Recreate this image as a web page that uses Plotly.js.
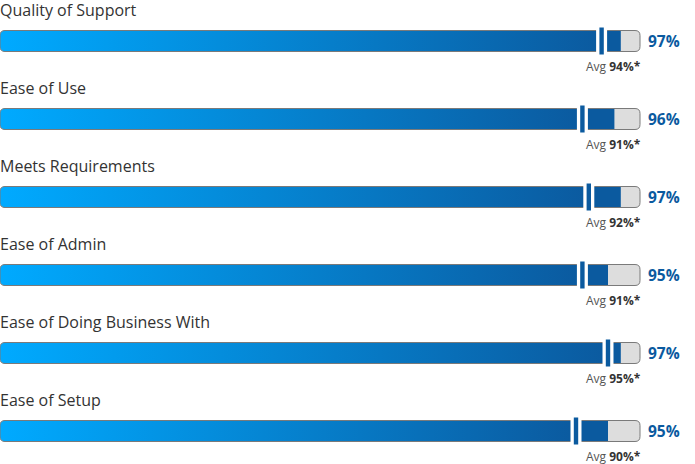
<!DOCTYPE html>
<html>
<head>
<meta charset="utf-8">
<script src="https://cdn.plot.ly/plotly-3.0.1.min.js"></script>
<style>html,body{margin:0;padding:0;background:#fff;}#chart{width:695px;height:464px;}</style>
</head>
<body>
<div id="chart"></div>
<script>
const categories = ["Quality of Support","Ease of Use","Meets Requirements","Ease of Admin","Ease of Doing Business With","Ease of Setup"];
const scores = [97, 96, 97, 95, 97, 95];
const averages = [94, 91, 92, 91, 95, 90];

const W = 695, H = 464;
const pxPerPct = 6.4;          // 100% spans 640px
const rowPitch = 78;
const barTop = 30.5, barBot = 51.5;
const radius = 5;              // corner radius in px
const rx = radius / pxPerPct;  // corner radius in x units
const full = 100;

const traces = [];
const shapes = [];
const annotations = [];

function roundedPath(x0, x1, y0, y1) {
  return `M ${x0 + rx} ${y0} L ${x1 - rx} ${y0} Q ${x1} ${y0} ${x1} ${y0 + radius} L ${x1} ${y1 - radius} Q ${x1} ${y1} ${x1 - rx} ${y1} L ${x0 + rx} ${y1} Q ${x0} ${y1} ${x0} ${y1 - radius} L ${x0} ${y0 + radius} Q ${x0} ${y0} ${x0 + rx} ${y0} Z`;
}

categories.forEach((cat, i) => {
  const off = rowPitch * i;
  const t = barTop + off, b = barBot + off;
  const v = scores[i], a = averages[i];

  shapes.push({type: 'path', xref: 'x', yref: 'y', layer: 'below',
    path: roundedPath(0, full, t, b), fillcolor: '#dddddd', line: {width: 0}});

  const xs = [], ys = [];
  xs.push(rx, v, v, rx); ys.push(t, t, b, b);
  const n = 8;
  for (let k = 0; k <= n; k++) {
    const ang = Math.PI / 2 + (Math.PI / 2) * k / n;
    xs.push(rx + rx * Math.cos(ang)); ys.push(b - radius + radius * Math.sin(ang));
  }
  for (let k = 0; k <= n; k++) {
    const ang = Math.PI + (Math.PI / 2) * k / n;
    xs.push(rx + rx * Math.cos(ang)); ys.push(t + radius + radius * Math.sin(ang));
  }
  traces.push({type: 'scatter', mode: 'none', x: xs, y: ys, fill: 'toself',
    fillgradient: {type: 'horizontal', start: 0, stop: a,
      colorscale: [[0, '#00aaff'], [1, '#0b5a9f']]},
    hoverinfo: 'skip', showlegend: false});

  shapes.push({type: 'path', xref: 'x', yref: 'y', layer: 'above',
    path: roundedPath(0, full, t, b), fillcolor: 'rgba(0,0,0,0)', line: {color: '#7a7a7a', width: 1}});

  shapes.push({type: 'rect', xref: 'x', yref: 'y', layer: 'above',
    x0: a - 5.5 / pxPerPct, x1: a + 5.5 / pxPerPct, y0: t - 0.5, y1: b + 0.5,
    fillcolor: '#ffffff', line: {width: 0}});
  shapes.push({type: 'rect', xref: 'x', yref: 'y', layer: 'above',
    x0: a - 2.2 / pxPerPct, x1: a + 2.2 / pxPerPct, y0: t - 3, y1: b + 3,
    fillcolor: '#0b5a9f', line: {width: 0}});

  annotations.push({xref: 'x', yref: 'y', x: 0, y: 10 + off, xanchor: 'left', yanchor: 'middle', xshift: -1,
    borderpad: 0, text: cat, showarrow: false, font: {family: 'Open Sans, sans-serif', size: 16, color: '#333333'}});
  annotations.push({xref: 'x', yref: 'y', x: full + 7 / pxPerPct, y: 41 + off, xanchor: 'left', yanchor: 'middle',
    borderpad: 0, text: '<b>' + v + '%</b>', showarrow: false, font: {family: 'Open Sans, sans-serif', size: 15.5, color: '#0b5a9f'}});
  annotations.push({xref: 'x', yref: 'y', x: full, y: 66 + off, xanchor: 'right', yanchor: 'middle', xshift: 2,
    borderpad: 0, text: 'Avg <b><span style="color:#333333">' + a + '%*</span></b>', showarrow: false,
    font: {family: 'Open Sans, sans-serif', size: 12, color: '#555555'}});
});

const layout = {
  width: W, height: H,
  margin: {l: 0, r: 0, t: 0, b: 0, pad: 0},
  paper_bgcolor: '#ffffff', plot_bgcolor: '#ffffff',
  xaxis: {range: [0, W / pxPerPct], visible: false, fixedrange: true},
  yaxis: {range: [H, 0], visible: false, fixedrange: true},
  shapes: shapes, annotations: annotations,
  showlegend: false, hovermode: false
};

Plotly.newPlot('chart', traces, layout, {displayModeBar: false, staticPlot: true});
</script>
</body>
</html>
